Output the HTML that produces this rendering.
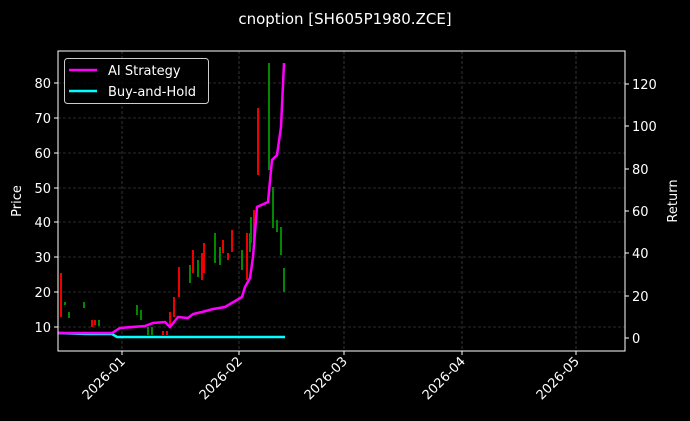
<!DOCTYPE html>
<html><head><meta charset="utf-8"><style>body{margin:0;background:#000}svg{display:block}text{font-family:"DejaVu Sans","Liberation Sans",sans-serif;fill:#fff}</style></head><body>
<svg width="690" height="421" viewBox="0 0 690 421">
<rect width="690" height="421" fill="#000"/>
<text x="345" y="24" font-size="15" text-anchor="middle">cnoption [SH605P1980.ZCE]</text>
<g stroke="#555" stroke-width="0.6" stroke-dasharray="3,2">
<line x1="122" y1="51" x2="122" y2="351"/><line x1="239" y1="51" x2="239" y2="351"/><line x1="344" y1="51" x2="344" y2="351"/><line x1="462" y1="51" x2="462" y2="351"/><line x1="576" y1="51" x2="576" y2="351"/>
<line x1="58" y1="83" x2="625" y2="83"/><line x1="58" y1="118" x2="625" y2="118"/><line x1="58" y1="153" x2="625" y2="153"/><line x1="58" y1="188" x2="625" y2="188"/><line x1="58" y1="222" x2="625" y2="222"/><line x1="58" y1="257" x2="625" y2="257"/><line x1="58" y1="292" x2="625" y2="292"/><line x1="58" y1="327" x2="625" y2="327"/>
</g>
<g stroke-width="2">
<line x1="61" y1="273" x2="61" y2="317" stroke="#e00"/>
<line x1="65" y1="302" x2="65" y2="305" stroke="#080"/>
<line x1="69" y1="312" x2="69" y2="318" stroke="#080"/>
<line x1="84" y1="302" x2="84" y2="308" stroke="#080"/>
<line x1="92" y1="320" x2="92" y2="327" stroke="#e00"/>
<line x1="95" y1="320" x2="95" y2="325" stroke="#e00"/>
<line x1="99" y1="320" x2="99" y2="326" stroke="#080"/>
<line x1="137" y1="305" x2="137" y2="315" stroke="#080"/>
<line x1="141" y1="310" x2="141" y2="320" stroke="#080"/>
<line x1="148" y1="327" x2="148" y2="335" stroke="#080"/>
<line x1="152" y1="327" x2="152" y2="335" stroke="#080"/>
<line x1="163" y1="331" x2="163" y2="335" stroke="#e00"/>
<line x1="167" y1="331" x2="167" y2="335" stroke="#e00"/>
<line x1="170" y1="312" x2="170" y2="327" stroke="#e00"/>
<line x1="174" y1="297" x2="174" y2="317" stroke="#e00"/>
<line x1="179" y1="267" x2="179" y2="297" stroke="#e00"/>
<line x1="190" y1="265" x2="190" y2="283" stroke="#080"/>
<line x1="193" y1="250" x2="193" y2="273" stroke="#e00"/>
<line x1="198" y1="260" x2="198" y2="277" stroke="#080"/>
<line x1="202" y1="253" x2="202" y2="280" stroke="#e00"/>
<line x1="204" y1="243" x2="204" y2="273" stroke="#e00"/>
<line x1="215" y1="233" x2="215" y2="263" stroke="#080"/>
<line x1="220" y1="247" x2="220" y2="265" stroke="#080"/>
<line x1="223" y1="240" x2="223" y2="253" stroke="#e00"/>
<line x1="228" y1="253" x2="228" y2="260" stroke="#e00"/>
<line x1="232" y1="230" x2="232" y2="252" stroke="#e00"/>
<line x1="242" y1="250" x2="242" y2="270" stroke="#080"/>
<line x1="247" y1="233" x2="247" y2="280" stroke="#e00"/>
<line x1="250" y1="233" x2="250" y2="252" stroke="#080"/>
<line x1="251" y1="217" x2="251" y2="243" stroke="#080"/>
<line x1="254" y1="210" x2="254" y2="247" stroke="#e00"/>
<line x1="258" y1="108" x2="258" y2="175" stroke="#e00"/>
<line x1="269" y1="63" x2="269" y2="170" stroke="#080"/>
<line x1="273" y1="187" x2="273" y2="228" stroke="#080"/>
<line x1="277" y1="220" x2="277" y2="232" stroke="#080"/>
<line x1="281" y1="227" x2="281" y2="255" stroke="#080"/>
<line x1="284" y1="268" x2="284" y2="292" stroke="#080"/>
</g>
<polyline fill="none" stroke="#0ff" stroke-width="2.5" points="58,333 88,334 112,334 117,337 285,337"/>
<polyline fill="none" stroke="#f0f" stroke-width="2.5" points="58,333 112,333 120,328 145,326 153,323 165,322 170,327 178,317 188,318 193,314 202,312 213,309 225,307 242,297 245,287 250,278 253,257 257,207 268,202 272,160 277,155 281,127 284,63"/>
<rect x="58" y="51" width="567" height="300" fill="none" stroke="#fff" stroke-width="1"/>
<g stroke="#fff" stroke-width="1">
<line x1="54" y1="83" x2="58" y2="83"/><line x1="54" y1="118" x2="58" y2="118"/><line x1="54" y1="153" x2="58" y2="153"/><line x1="54" y1="188" x2="58" y2="188"/><line x1="54" y1="222" x2="58" y2="222"/><line x1="54" y1="257" x2="58" y2="257"/><line x1="54" y1="292" x2="58" y2="292"/><line x1="54" y1="327" x2="58" y2="327"/>
<line x1="625" y1="84" x2="629" y2="84"/><line x1="625" y1="126" x2="629" y2="126"/><line x1="625" y1="169" x2="629" y2="169"/><line x1="625" y1="211" x2="629" y2="211"/><line x1="625" y1="253" x2="629" y2="253"/><line x1="625" y1="296" x2="629" y2="296"/><line x1="625" y1="338" x2="629" y2="338"/>
<line x1="122" y1="351" x2="122" y2="355"/><line x1="239" y1="351" x2="239" y2="355"/><line x1="344" y1="351" x2="344" y2="355"/><line x1="462" y1="351" x2="462" y2="355"/><line x1="576" y1="351" x2="576" y2="355"/>
</g>
<g font-size="13" text-anchor="end">
<text x="51" y="88">80</text><text x="51" y="123">70</text><text x="51" y="158">60</text><text x="51" y="193">50</text><text x="51" y="227">40</text><text x="51" y="262">30</text><text x="51" y="297">20</text><text x="51" y="332">10</text>
</g>
<g font-size="13">
<text x="632" y="89">120</text><text x="632" y="131">100</text><text x="632" y="174">80</text><text x="632" y="216">60</text><text x="632" y="258">40</text><text x="632" y="301">20</text><text x="632" y="343">0</text>
</g>
<text font-size="13" transform="translate(21,201) rotate(-90)" text-anchor="middle">Price</text>
<text font-size="13" transform="translate(677,201) rotate(-90)" text-anchor="middle">Return</text>
<g font-size="13" text-anchor="end">
<text transform="translate(126,362) rotate(-45)">2026-01</text>
<text transform="translate(243,362) rotate(-45)">2026-02</text>
<text transform="translate(348,362) rotate(-45)">2026-03</text>
<text transform="translate(466,362) rotate(-45)">2026-04</text>
<text transform="translate(580,362) rotate(-45)">2026-05</text>
</g>
<rect x="64.5" y="58.5" width="144" height="45" rx="3" fill="#000" fill-opacity="0.8" stroke="#ccc"/>
<line x1="69" y1="70" x2="97" y2="70" stroke="#f0f" stroke-width="2.5"/>
<line x1="69" y1="91" x2="97" y2="91" stroke="#0ff" stroke-width="2.5"/>
<text x="108" y="75" font-size="13">AI Strategy</text>
<text x="108" y="96" font-size="13">Buy-and-Hold</text>
</svg>
</body></html>
